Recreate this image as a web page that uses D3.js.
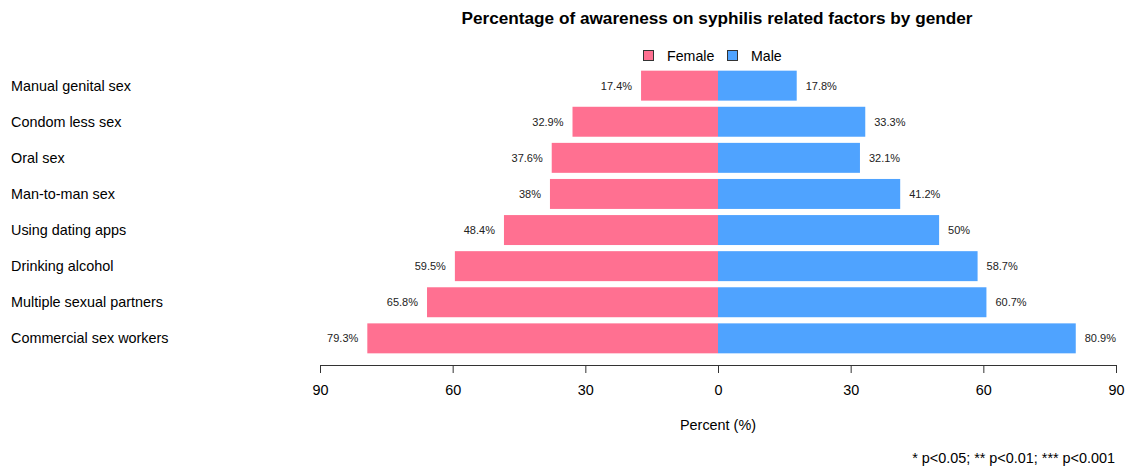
<!DOCTYPE html>
<html><head><meta charset="utf-8">
<script src="https://cdn.jsdelivr.net/npm/d3@7"></script>
<style>body{margin:0;background:#fff}svg{display:block;font-family:"Liberation Sans",Arial,sans-serif}</style>
</head><body>
<svg id="c" width="1125" height="468"></svg>
<script>
const categories = ["Manual genital sex","Condom less sex","Oral sex","Man-to-man sex","Using dating apps","Drinking alcohol","Multiple sexual partners","Commercial sex workers"];
const female = [17.4, 32.9, 37.6, 38, 48.4, 59.5, 65.8, 79.3];
const male = [17.8, 33.3, 32.1, 41.2, 50, 58.7, 60.7, 80.9];
const femaleLabels = ["17.4%","32.9%","37.6%","38%","48.4%","59.5%","65.8%","79.3%"];
const maleLabels = ["17.8%","33.3%","32.1%","41.2%","50%","58.7%","60.7%","80.9%"];
const tickValues = [-90,-60,-30,0,30,60,90];
const seriesNames = ["Female","Male"];
const colors = ["#FF7091","#4FA3FF"];

const svg = d3.select("#c");
const x = d3.scaleLinear().domain([-90,90]).range([320,1116]);
const y = d3.scaleBand().domain(categories).range([67.6,356.4]).paddingInner(0.17).paddingOuter(0.085);

// title
svg.append("text").attr("x",717).attr("y",24).attr("text-anchor","middle")
  .attr("font-size",17.2).attr("font-weight","bold").attr("fill","#000")
  .text("Percentage of awareness on syphilis related factors by gender");

// legend
const leg = svg.append("g");
const legItems = [{x:643,tx:667},{x:727,tx:751}];
seriesNames.forEach((n,i)=>{
  leg.append("rect").attr("x",legItems[i].x+0.5).attr("y",50.5).attr("width",10).attr("height",10)
    .attr("fill",colors[i]).attr("stroke","#333").attr("stroke-width",1);
  leg.append("text").attr("x",legItems[i].tx).attr("y",61).attr("font-size",14.2).attr("fill","#000").text(n);
});

// bars
svg.append("g").selectAll("rect").data(categories).join("rect")
  .attr("x",(d,i)=>x(-female[i])).attr("y",d=>y(d))
  .attr("width",(d,i)=>x(0)-x(-female[i])).attr("height",y.bandwidth())
  .attr("fill",colors[0]);
svg.append("g").selectAll("rect").data(categories).join("rect")
  .attr("x",x(0)).attr("y",d=>y(d))
  .attr("width",(d,i)=>x(male[i])-x(0)).attr("height",y.bandwidth())
  .attr("fill",colors[1]);

// value labels
svg.append("g").selectAll("text").data(categories).join("text")
  .attr("x",(d,i)=>x(-female[i])-9).attr("y",d=>y(d)+y.bandwidth()/2).attr("dy","0.35em")
  .attr("text-anchor","end").attr("font-size",11).attr("fill","#222")
  .text((d,i)=>femaleLabels[i]);
svg.append("g").selectAll("text").data(categories).join("text")
  .attr("x",(d,i)=>x(male[i])+9).attr("y",d=>y(d)+y.bandwidth()/2).attr("dy","0.35em")
  .attr("text-anchor","start").attr("font-size",11).attr("fill","#222")
  .text((d,i)=>maleLabels[i]);

// category labels
svg.append("g").selectAll("text").data(categories).join("text")
  .attr("x",11).attr("y",d=>y(d)+y.bandwidth()/2).attr("dy","0.35em")
  .attr("font-size",14.4).attr("fill","#000").text(d=>d);

// axis
const ax = svg.append("g").attr("transform","translate(0,365)")
  .call(d3.axisBottom(x).tickValues(tickValues).tickSize(8).tickSizeOuter(0).tickPadding(12).tickFormat(d=>Math.abs(d)));
ax.select(".domain").attr("stroke","#333");
ax.selectAll(".tick line").attr("stroke","#333");
ax.selectAll(".tick text").attr("font-size",14.4).attr("fill","#000").attr("font-family","Liberation Sans, Arial, sans-serif");

svg.append("text").attr("x",718).attr("y",430).attr("text-anchor","middle")
  .attr("font-size",14.4).attr("fill","#000").text("Percent (%)");
svg.append("text").attr("x",1115).attr("y",463).attr("text-anchor","end")
  .attr("font-size",14.4).attr("fill","#000").text("* p<0.05; ** p<0.01; *** p<0.001");
</script>
</body></html>
